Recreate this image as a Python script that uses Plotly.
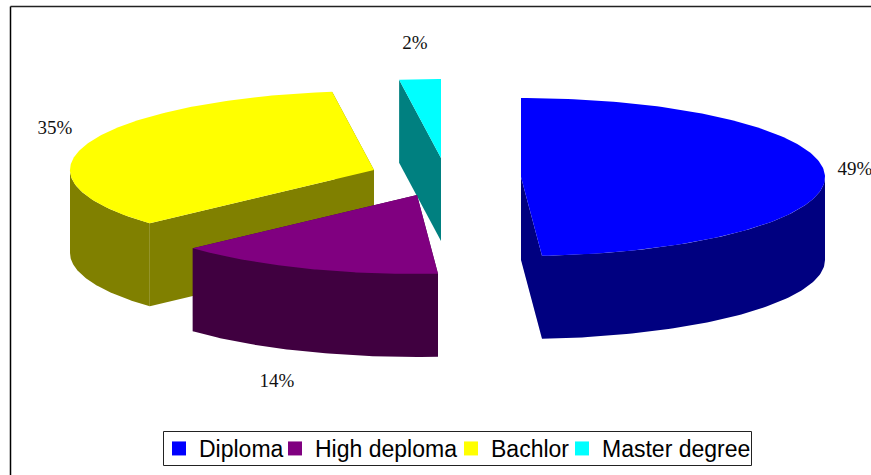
import numpy as np
import plotly.graph_objects as go

# Data
categories = ["Diploma", "High deploma", "Bachlor", "Master degree"]
values = [48.9, 14.3, 34.6, 2.2]
top_colors = ["#0000FF", "#800080", "#FFFF00", "#00FFFF"]
side_colors = ["#000080", "#400040", "#808000", "#008080"]
# Exploded apex of each slice (projected pie centre) and label anchors
apex_x = [521, 417, 374, 441]
apex_y = [177, 195, 170, 158]
label_x = [855, 277, 55, 415]
label_y = [170, 382, 129, 44]
legend_widths = [71, 131, 66, 148]
draw_order = [2, 3, 0, 1]

RX, RY, DEPTH = 304, 79, 83

cum = np.cumsum([0] + values) / sum(values) * 2 * np.pi


def ell(cx, cy, t, dy=0):
    return cx + RX * np.sin(t), cy - RY * np.cos(t) + dy


def poly(fig, xs, ys, color):
    fig.add_trace(go.Scatter(x=list(xs), y=list(ys), mode="lines", fill="toself",
                             fillcolor=color, line=dict(width=0, color=color),
                             hoverinfo="skip", showlegend=False))


fig = go.Figure()

# Legend entries, in category order
for i, name in enumerate(categories):
    fig.add_trace(go.Scatter(x=[None], y=[None], mode="markers", name=name,
                             marker=dict(symbol="square", size=14, color=top_colors[i]),
                             legendwidth=legend_widths[i]))

for i in draw_order:
    cx, cy = apex_x[i], apex_y[i]
    a0, a1 = cum[i], cum[i + 1]
    # radial cut faces
    for a in (a0, a1):
        ex, ey = ell(cx, cy, a)
        poly(fig, [cx, ex, ex, cx, cx], [cy, ey, ey + DEPTH, cy + DEPTH, cy], side_colors[i])
    # outer rim (front-facing part only)
    lo, hi = max(a0, np.pi / 2), min(a1, 3 * np.pi / 2)
    if hi > lo:
        t = np.linspace(lo, hi, 80)
        x, y = ell(cx, cy, t)
        poly(fig, np.r_[x, x[::-1]], np.r_[y, (y + DEPTH)[::-1]], side_colors[i])
    # top face
    t = np.linspace(a0, a1, 160)
    x, y = ell(cx, cy, t)
    poly(fig, np.r_[cx, x, cx], np.r_[cy, y, cy], top_colors[i])

# Percentage labels
fig.add_trace(go.Scatter(x=label_x, y=label_y, mode="text",
                         text=[f"{v:.0f}%" for v in values],
                         textposition="middle center", cliponaxis=False,
                         textfont=dict(family="Liberation Serif", size=19, color="#111111"),
                         hoverinfo="skip", showlegend=False))

fig.update_layout(
    width=871, height=475,
    margin=dict(l=0, r=0, t=0, b=0),
    paper_bgcolor="white", plot_bgcolor="white",
    xaxis=dict(range=[0, 871], visible=False, fixedrange=True),
    yaxis=dict(range=[475, 0], visible=False, fixedrange=True),
    legend=dict(orientation="h", x=159 / 871, y=1 - 427 / 475, xanchor="left", yanchor="top",
                bgcolor="rgba(0,0,0,0)", borderwidth=0,
                font=dict(family="Liberation Sans", size=23, color="black"),
                itemsizing="trace", tracegroupgap=0),
    shapes=[
        dict(type="line", xref="x", yref="y", x0=10.5, x1=10.5, y0=6.5, y1=475,
             line=dict(color="black", width=1.5)),
        dict(type="line", xref="x", yref="y", x0=10.5, x1=871, y0=6.5, y1=6.5,
             line=dict(color="#222222", width=1.5)),
        dict(type="rect", xref="x", yref="y", x0=163.5, x1=751.5, y0=431.5, y1=465.5,
             line=dict(color="#222222", width=1), fillcolor="white"),
    ],
)

fig.write_html("out.html", config={"displayModeBar": False},
               post_script="document.body.style.margin='0';document.body.style.overflow='hidden';")
